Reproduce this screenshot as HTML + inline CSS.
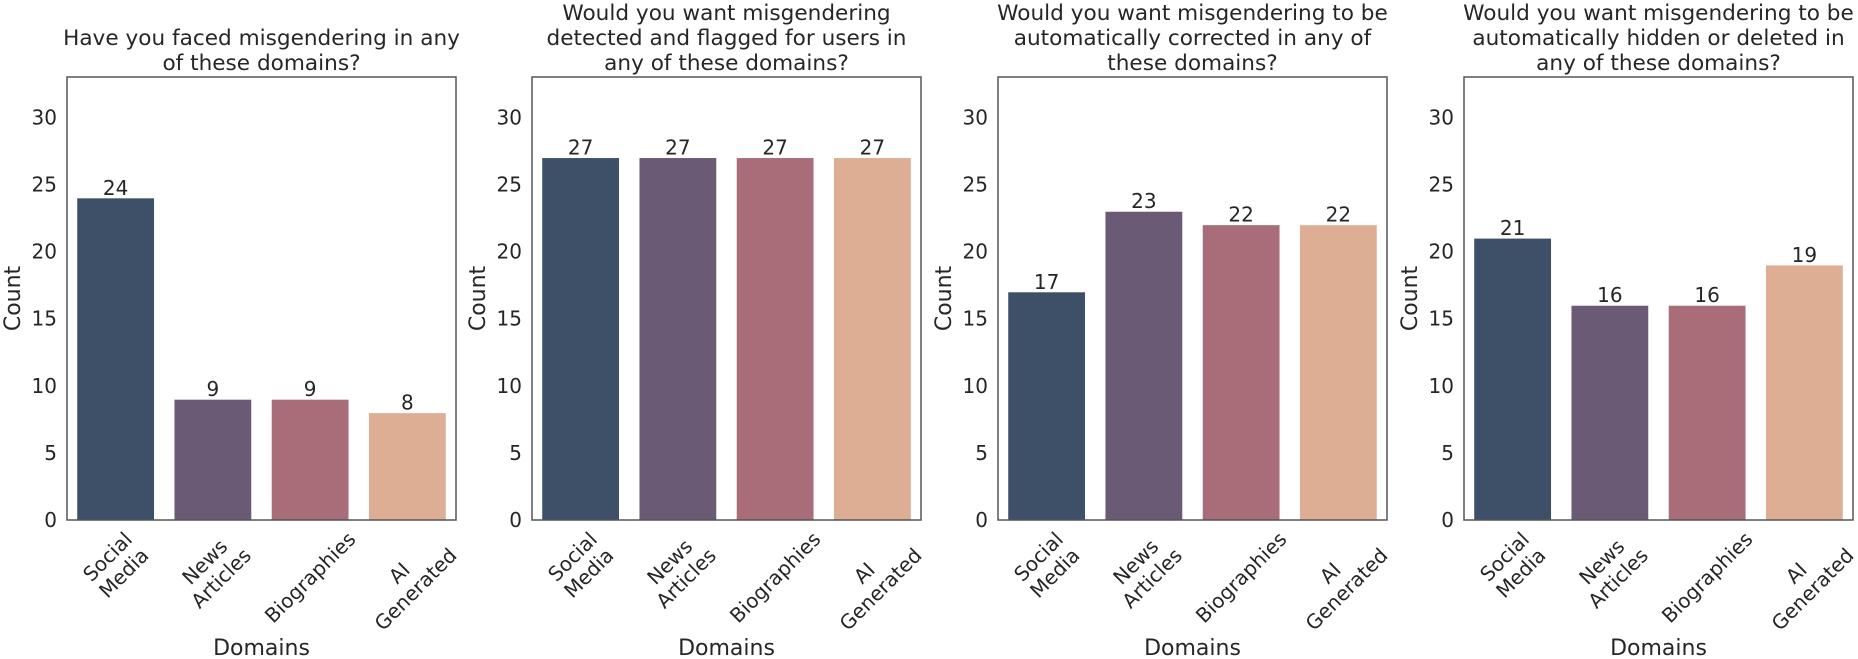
<!DOCTYPE html>
<html><head><meta charset="utf-8">
<style>
html,body{margin:0;padding:0;background:#fff;}
svg{display:block;font-family:"DejaVu Sans","Liberation Sans",sans-serif;}
</style></head>
<body>
<svg id="chart" width="1858" height="659" viewBox="0 0 1858 659"></svg>
<script>
const categories = [["Social","Media"],["News","Articles"],["Biographies"],["AI","Generated"]];
const titles = [
  ["Have you faced misgendering in any","of these domains?"],
  ["Would you want misgendering","detected and flagged for users in","any of these domains?"],
  ["Would you want misgendering to be","automatically corrected in any of","these domains?"],
  ["Would you want misgendering to be","automatically hidden or deleted in","any of these domains?"]
];
const facedValues = [24, 9, 9, 8];
const flaggedValues = [27, 27, 27, 27];
const correctedValues = [17, 23, 22, 22];
const hiddenValues = [21, 16, 16, 19];
const seriesList = [facedValues, flaggedValues, correctedValues, hiddenValues];
const yTicks = [0, 5, 10, 15, 20, 25, 30];
const colors = ["#3d5068","#6a5a75","#a86d79","#deae94"];

const NS = "http://www.w3.org/2000/svg";
const svg = document.getElementById("chart");
const panelLefts = [67, 532, 998, 1464];
const pw = 389, plotTop = 77, plotBottom = 520, yMax = 33;
function yScale(v){ return plotBottom - v/yMax*(plotBottom-plotTop); }
function mk(tag, attrs, parent){
  const e = document.createElementNS(NS, tag);
  for (const k in attrs) e.setAttribute(k, attrs[k]);
  (parent||svg).appendChild(e);
  return e;
}
seriesList.forEach((vals, p) => {
  const L = panelLefts[p];
  const g = mk("g", {});
  
  
  const band = pw / categories.length;
  function xCenter(i){ return L + band*(i+0.5); }
  const t = mk("text", {"text-anchor":"middle","font-size":"21.6","fill":"#262626"}, g);
  
  
  const lines = titles[p];
  const lastY = plotTop - 7;
  lines.forEach((ln, k) => {
    const ts = mk("tspan", {x: L + pw/2, y: lastY - (lines.length-1-k)*25}, t);
    ts.textContent = ln;
  });
  vals.forEach((v, i) => {
    const bw = band*0.8;
    const r = mk("rect", {x: xCenter(i)-bw/2, y: yScale(v), width: bw, height: plotBottom - yScale(v), fill: colors[i], stroke:"#fff", "stroke-width":"1"}, g);
    
    
    const vl = mk("text", {x: xCenter(i), y: yScale(v)-3, "text-anchor":"middle", "font-size":"20", fill:"#262626"}, g);
    
    
    vl.textContent = v;
  });
  const fr = mk("rect", {x: L, y: plotTop, width: pw, height: plotBottom-plotTop, fill:"none", stroke:"#555", "stroke-width":"1.5"}, g);
  
  
  yTicks.forEach(tv => {
    const tl = mk("text", {x: L-10, y: yScale(tv)+7, "text-anchor":"end", "font-size":"20", fill:"#262626"}, g);
    
    
    tl.textContent = tv;
  });
  const yt = mk("text", {x: 0, y: 0, "text-anchor":"middle", "font-size":"22", fill:"#262626", transform:`translate(${L-47},${(plotTop+plotBottom)/2}) rotate(-90)`}, g);
  
  
  yt.textContent = "Count";
  categories.forEach((c, i) => {
    const xt = mk("text", {"text-anchor":"middle", "font-size":"20", fill:"#262626"}, g);
    
    
    c.forEach((ln, k) => {
      const ts = mk("tspan", {x: 0, y: k*23 - (c.length-1)*11.5 + 7}, xt);
      ts.textContent = ln;
    });
    xt.setAttribute("transform", `translate(${xCenter(i)},560) rotate(-45)`);
    const bb = xt.getBoundingClientRect();
    const dx = xCenter(i) - (bb.left + bb.width/2);
    const dy = (plotBottom + 7) - bb.top;
    xt.setAttribute("transform", `translate(${xCenter(i)+dx},${560+dy}) rotate(-45)`);
  });
  const xtt = mk("text", {x: L + pw/2, y: 655, "text-anchor":"middle", "font-size":"22", fill:"#262626"}, g);
  
  
  xtt.textContent = "Domains";
});
</script>
</body></html>
